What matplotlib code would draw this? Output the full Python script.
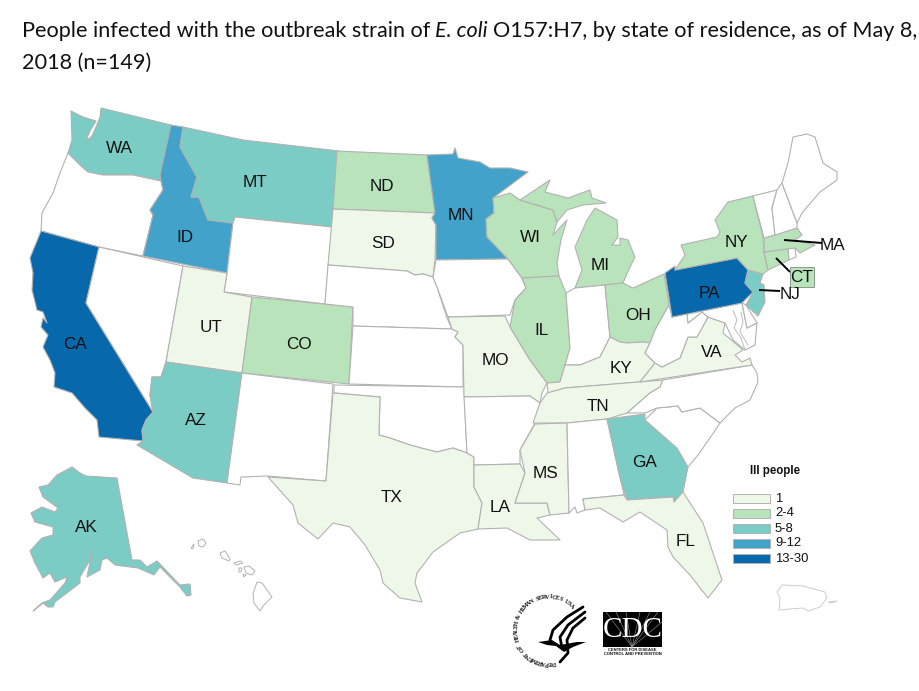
#!/usr/bin/env python3
"""
plot.py: choropleth of people infected with E. coli O157:H7 by state.
Outlines are read off the picture, in picture pixels.
"""

import math
import matplotlib
matplotlib.use("Agg")
import matplotlib.pyplot as plt
from matplotlib.patches import Polygon, Rectangle

EDGE = "#b2b2b2"
FAINT = "#cccccc"
INK = "#111111"

BIN_LABELS = ["1", "2-4", "5-8", "9-12", "13-30"]
BIN_COLORS = ["#eff8e8", "#b9e3bb", "#7bccc4", "#43a2ca", "#0868ac"]

# which bin each state falls in, states not listed have no cases
STATES_1 = ["SD", "UT", "MO", "KY", "VA", "TN", "TX", "LA", "MS", "FL"]
STATES_2_4 = ["ND", "WI", "MI", "NY", "OH", "IL", "CO", "MA", "CT"]
STATES_5_8 = ["WA", "MT", "AZ", "GA", "AK", "NJ"]
STATES_9_12 = ["ID", "MN"]
STATES_13_30 = ["CA", "PA"]

WA = [(71,111),(83,117),(96,121),(90,131),(86,141),(92,136),(96,127),(100,117),(101,108),(171,125),(160,175),(161,181),(133,175),(103,175),(88,172),(82,167),(68,153),(72,140)]
OR = [(68,153),(82,167),(88,172),(103,175),(133,175),(161,181),(163,190),(150,210),(153,215),(143,256),(99,247),(41,231),(42,213),(53,193),(60,173)]
CA = [(41,231),(99,247),(86,303),(153,412),(146,420),(142,430),(143,441),(99,437),(97,420),(85,408),(72,393),(54,387),(55,373),(50,360),(43,347),(48,335),(41,327),(43,318),(47,323),(43,312),(37,310),(32,290),(33,273),(30,258)]
NV = [(99,247),(183,266),(166,362),(161,377),(152,377),(150,395),(153,412),(86,303)]
ID = [(171,125),(183,127),(180,147),(197,177),(191,197),(199,197),(208,220),(233,223),(227,273),(143,256),(153,215),(150,210),(163,190),(161,181),(160,175)]
MT = [(183,127),(243,140),(339,151),(333,209),(332,227),(235,217),(233,223),(208,220),(199,197),(191,197),(197,177),(180,147)]
WY = [(235,217),(332,227),(325,304),(224,292),(227,273),(233,223)]
UT = [(183,266),(227,273),(224,292),(252,297),(242,373),(166,362)]
CO = [(252,297),(325,304),(353,307),(349,384),(242,373)]
AZ = [(166,362),(242,373),(227,483),(193,478),(137,445),(143,441),(142,430),(146,420),(153,412),(150,395),(152,377),(161,377)]
NM = [(242,373),(333,384),(326,481),(268,476),(241,477),(240,485),(227,483)]
ND = [(337,151),(427,155),(435,213),(333,209)]
SD = [(333,209),(435,213),(432,218),(436,225),(435,260),(433,277),(423,274),(415,275),(407,271),(328,265)]
NE = [(328,265),(407,271),(415,275),(423,274),(433,277),(437,287),(447,318),(452,329),(353,326),(353,307),(325,304)]
KS = [(353,326),(452,329),(458,332),(455,337),(463,345),(463,387),(349,384)]
OK = [(334,385),(464,387),(467,453),(453,448),(437,452),(425,449),(410,445),(390,438),(379,435),(380,397),(334,393)]
TX = [(334,393),(380,397),(379,435),(390,438),(410,445),(425,449),(437,452),(453,448),(467,453),(474,457),(474,487),(482,503),(478,529),(460,533),(433,552),(417,573),(415,583),(422,602),(400,598),(383,583),(380,570),(365,545),(350,527),(333,523),(318,539),(298,523),(293,505),(268,477),(326,481),(333,393)]
MN = [(427,155),(453,154),(455,148),(458,158),(480,162),(490,168),(510,168),(528,172),(493,198),(494,213),(486,219),(487,237),(508,259),(436,260),(436,225),(432,218),(435,213)]
IA = [(436,260),(508,259),(522,278),(526,288),(515,300),(510,315),(448,317),(437,287),(433,277)]
MO = [(448,317),(505,316),(510,327),(530,360),(547,383),(542,393),(540,403),(530,396),(464,397),(463,345),(455,337),(458,332),(452,329)]
AR = [(464,397),(530,396),(540,403),(535,423),(520,450),(520,464),(474,465),(474,457),(467,453)]
LA = [(474,465),(520,464),(525,473),(515,503),(547,503),(550,515),(537,518),(560,540),(530,540),(507,528),(478,529),(482,503),(474,487)]
WI = [(493,198),(510,193),(520,200),(553,210),(557,222),(553,235),(567,220),(561,240),(557,263),(559,276),(522,278),(508,259),(487,237),(486,219),(494,213)]
MI_UP = [(520,200),(550,180),(545,192),(568,198),(590,190),(592,198),(606,203),(583,205),(567,210),(557,222),(553,210)]
MI_LOW = [(595,208),(617,220),(618,237),(612,245),(620,245),(620,238),(628,240),(635,257),(630,267),(623,283),(605,285),(575,288),(582,270),(575,247),(587,220)]
IL = [(522,278),(559,276),(566,293),(570,348),(565,365),(560,382),(547,383),(530,360),(510,327),(515,300),(526,288)]
IN = [(566,293),(575,288),(605,285),(610,337),(600,357),(580,365),(565,365),(570,348)]
OH = [(623,283),(633,288),(664,274),(669,305),(655,330),(650,343),(643,342),(627,343),(620,342),(610,337),(605,285)]
KY = [(565,365),(580,365),(600,357),(610,337),(620,342),(627,343),(643,342),(650,343),(645,353),(655,363),(640,382),(565,388),(548,393),(547,383),(560,382)]
TN = [(533,423),(540,403),(547,393),(565,388),(663,380),(660,387),(650,393),(627,413),(607,419),(567,423)]
MS = [(535,424),(567,423),(569,513),(550,515),(547,503),(515,503),(525,473),(520,450)]
AL = [(567,423),(607,419),(624,495),(583,499),(585,510),(577,513),(575,507),(569,513)]
GA = [(607,419),(645,414),(645,420),(677,448),(688,467),(683,492),(674,502),(673,497),(627,500),(620,478)]
FL = [(583,499),(624,495),(627,500),(673,497),(674,502),(683,492),(703,523),(722,580),(708,598),(690,575),(673,557),(668,547),(667,530),(640,512),(623,522),(600,508),(585,510)]
SC = [(645,420),(657,408),(678,406),(682,412),(700,408),(720,423),(712,435),(698,455),(688,467),(677,448)]
NC = [(752,365),(757,373),(758,382),(750,400),(735,408),(720,423),(700,408),(682,412),(678,406),(657,408),(645,413),(627,413),(650,393),(660,387),(663,380)]
VA = [(640,382),(655,363),(662,367),(680,358),(688,337),(697,337),(708,317),(725,323),(723,333),(735,343),(743,350),(735,355),(742,362),(750,358),(752,365)]
WV = [(669,305),(672,317),(687,313),(688,323),(702,312),(708,317),(697,337),(688,337),(680,358),(662,367),(655,363),(645,353),(650,343),(655,330)]
MD = [(672,317),(742,303),(747,328),(757,323),(755,345),(745,350),(733,340),(725,323),(708,317),(702,312),(688,323),(687,313)]
DE = [(742,303),(746,305),(757,323),(747,328)]
PA = [(665,273),(675,266),(675,270),(737,258),(748,270),(745,283),(753,292),(742,303),(672,317)]
NJ = [(748,270),(763,274),(760,283),(764,285),(765,302),(758,316),(746,305),(753,292),(745,283)]
NY = [(675,270),(685,255),(681,245),(717,237),(720,232),(715,220),(728,202),(753,196),(763,237),(764,252),(768,270),(763,274),(748,270),(737,258)]
CT = [(764,252),(788,248),(789,260),(768,270)]
RI = [(788,248),(795,248),(796,257),(789,260)]
MA = [(764,238),(797,228),(802,235),(795,240),(815,245),(800,253),(795,248),(764,252)]
VT = [(753,196),(777,190),(772,208),(775,235),(764,238)]
NH = [(777,190),(782,183),(797,223),(797,228),(775,235),(772,208)]
ME = [(782,183),(788,163),(793,137),(807,134),(815,137),(823,163),(837,172),(837,180),(820,192),(807,207),(802,213),(797,223)]
AK = [(72,467),(80,473),(86,476),(117,478),(132,560),(140,560),(147,567),(157,561),(180,585),(190,584),(191,595),(187,596),(182,590),(180,587),(160,567),(154,575),(138,568),(130,567),(115,565),(107,558),(102,560),(100,570),(87,577),(90,562),(92,550),(90,560),(80,577),(80,583),(55,602),(53,607),(48,607),(43,603),(33,611),(42,603),(50,600),(65,583),(67,577),(55,582),(50,573),(43,578),(35,563),(30,551),(42,538),(53,535),(53,527),(35,522),(31,513),(42,507),(55,512),(58,508),(43,497),(39,487),(48,485),(57,475)]

STATE_SHAPES = {
    "WA": [WA], "OR": [OR], "CA": [CA], "NV": [NV], "ID": [ID], "MT": [MT], "WY": [WY], "UT": [UT],
    "CO": [CO], "AZ": [AZ], "NM": [NM], "ND": [ND], "SD": [SD], "NE": [NE], "KS": [KS], "OK": [OK],
    "TX": [TX], "MN": [MN], "IA": [IA], "MO": [MO], "AR": [AR], "LA": [LA], "WI": [WI],
    "MI": [MI_UP, MI_LOW], "IL": [IL], "IN": [IN], "OH": [OH], "KY": [KY], "TN": [TN], "MS": [MS],
    "AL": [AL], "GA": [GA], "FL": [FL], "SC": [SC], "NC": [NC], "VA": [VA], "WV": [WV], "MD": [MD],
    "DE": [DE], "PA": [PA], "NJ": [NJ], "NY": [NY], "CT": [CT], "RI": [RI], "MA": [MA], "VT": [VT],
    "NH": [NH], "ME": [ME], "AK": [AK],
}

# white islands with a thin outline
HAWAII = [
    [(191,548),(194,544),(193,549)],
    [(198,541),(203,539),(206,543),(203,547),(199,546)],
    [(220,553),(225,551),(230,559),(229,561),(222,558)],
    [(234,563),(240,561),(243,563),(236,565)],
    [(239,568),(242,568),(241,572),(239,572)],
    [(244,567),(249,566),(255,571),(252,575),(246,573)],
    [(243,574),(246,575),(244,577)],
    [(257,582),(262,583),(272,597),(263,606),(260,611),(254,603),(253,594)],
]
PUERTO_RICO = [
    [(782,585),(803,586),(825,592),(827,598),(820,607),(808,611),(803,608),(790,609),(779,610),(780,598),(777,592)],
    [(828,602),(837,601),(831,603)],
]
CHESAPEAKE = [
    [(733,310),(737,320),(734,328),(741,338),(745,350)],
    [(741,312),(743,322),(740,332),(748,345)],
]

LABELS = ["WA", "MT", "ID", "ND", "SD", "MN", "WI", "MI", "NY", "PA", "OH", "IL", "MO", "KY", "VA",
          "TN", "CO", "UT", "CA", "AZ", "TX", "LA", "MS", "GA", "FL", "AK", "MA", "CT", "NJ"]
LABEL_X = [119, 255, 185, 382, 383, 461, 530, 600, 736, 709, 638, 542, 495, 621, 712,
           598, 299, 211, 75, 196, 392, 500, 546, 645, 686, 86, 832, 802, 790]
LABEL_Y = [148, 182, 237, 186, 243, 215, 237, 265, 242, 293, 315, 330, 360, 368, 352,
           406, 344, 327, 344, 420, 497, 507, 473, 462, 542, 527, 245, 277, 294]

LEADER_LINES = [
    [(784, 240), (822, 243)],
    [(776, 258), (790, 272)],
    [(759, 290), (780, 291)],
]

TITLE_PARTS = [("People infected with the outbreak strain of", "normal", 5), ("E. coli", "italic", 5),
               ("O157:H7, by state of residence, as of May 8,", "normal", 0)]
TITLE_LINE_2 = "2018 (n=149)"

HHS_SEAL = "DEPARTMENT OF HEALTH & HUMAN SERVICES USA"
HHS_STRIPES = [
    [(583,607),(567,617),(553,630),(550,640)],
    [(585,612),(568,625),(560,637),(562,648)],
    [(585,618),(573,628),(567,640),(568,653),(560,662)],
]
HHS_BODY = [(538,642),(552,640),(560,645),(577,642),(586,642),(573,647),(564,652),(556,646),(547,645)]
CDC_RAYS = [(606, 612), (616, 612), (626, 612), (640, 612), (650, 612), (658, 612), (662, 622)]


def fill_for(state):
    groups = [STATES_1, STATES_2_4, STATES_5_8, STATES_9_12, STATES_13_30]
    for color, group in zip(BIN_COLORS, groups):
        if state in group:
            return color
    return "white"


def draw_title(fig, ax):
    renderer = fig.canvas.get_renderer()
    x = 22
    for part, style, gap in TITLE_PARTS:
        t = ax.text(x, 37, part, family="Lato", style=style, fontsize=15.55, color=INK, va="baseline")
        x += t.get_window_extent(renderer).width + gap
    ax.text(22, 69, TITLE_LINE_2, family="Lato", fontsize=15.55, color=INK, va="baseline")


def draw_legend(ax):
    ax.text(775, 471, "Ill people", family="Liberation Sans", weight="bold", fontsize=8.3,
            color=INK, ha="center", va="center")
    for i, (label, color) in enumerate(zip(BIN_LABELS, BIN_COLORS)):
        y = 494 + i * 15
        ax.add_patch(Rectangle((733, y), 37, 9, facecolor=color, edgecolor=EDGE, linewidth=0.7))
        ax.text(775, y + 4.5, label, family="Liberation Sans", fontsize=9.4, color=INK, va="center")


def draw_logos(ax):
    # HHS seal, letters set one by one round the circle
    cx, cy, r = 549, 630, 33
    n = len(HHS_SEAL)
    for i, ch in enumerate(HHS_SEAL):
        a = -82 - 232 * i / (n - 1)
        ax.text(cx + r * math.cos(math.radians(a)), cy - r * math.sin(math.radians(a)), ch,
                family="Liberation Serif", weight="bold", fontsize=4.6, color=INK,
                rotation=a - 90, ha="center", va="center", rotation_mode="anchor")
    for stripe in HHS_STRIPES:
        ax.plot(*zip(*stripe), color="black", linewidth=2.0, solid_capstyle="round")
    ax.add_patch(Polygon(HHS_BODY, closed=True, facecolor="black", edgecolor="none"))

    ax.add_patch(Rectangle((603, 612), 59, 35, facecolor="black", edgecolor="none"))
    for rx, ry in CDC_RAYS:
        ax.plot([632, rx], [647, ry], color="#999999", linewidth=0.4)
    ax.text(632.5, 630, "CDC", family="Liberation Serif", fontsize=21, color="white",
            ha="center", va="center")
    ax.text(632.5, 650, "CENTERS FOR DISEASE", family="Liberation Sans", weight="bold",
            fontsize=3.0, color=INK, ha="center", va="center")
    ax.text(632.5, 654, "CONTROL AND PREVENTION", family="Liberation Sans", weight="bold",
            fontsize=3.0, color=INK, ha="center", va="center")


def main():
    fig = plt.figure(figsize=(9.2, 6.91), dpi=100)
    ax = fig.add_axes([0, 0, 1, 1])
    ax.set_xlim(0, 920)
    ax.set_ylim(691, 0)
    ax.axis("off")

    for state, shapes in STATE_SHAPES.items():
        for shape in shapes:
            ax.add_patch(Polygon(shape, closed=True, facecolor=fill_for(state), edgecolor=EDGE,
                                 linewidth=0.8, joinstyle="round"))
    for shape in HAWAII:
        ax.add_patch(Polygon(shape, closed=True, facecolor="white", edgecolor=EDGE, linewidth=0.7))
    for shape in PUERTO_RICO:
        ax.add_patch(Polygon(shape, closed=True, facecolor="white", edgecolor=FAINT, linewidth=0.7))
    for line in CHESAPEAKE:
        ax.plot(*zip(*line), color=EDGE, linewidth=0.6)

    for line in LEADER_LINES:
        ax.plot(*zip(*line), color="black", linewidth=1.4, solid_capstyle="butt", zorder=4)
    ax.add_patch(Rectangle((790, 267), 24, 20, facecolor=BIN_COLORS[1], edgecolor="#8a9a8a",
                           linewidth=0.7, zorder=4))
    for label, x, y in zip(LABELS, LABEL_X, LABEL_Y):
        ax.text(x, y, label, family="Liberation Sans", fontsize=12.3, color=INK,
                ha="center", va="center", zorder=5)

    draw_legend(ax)
    draw_logos(ax)
    draw_title(fig, ax)

    fig.savefig("out.png", dpi=100)
    plt.close(fig)


if __name__ == "__main__":
    main()
